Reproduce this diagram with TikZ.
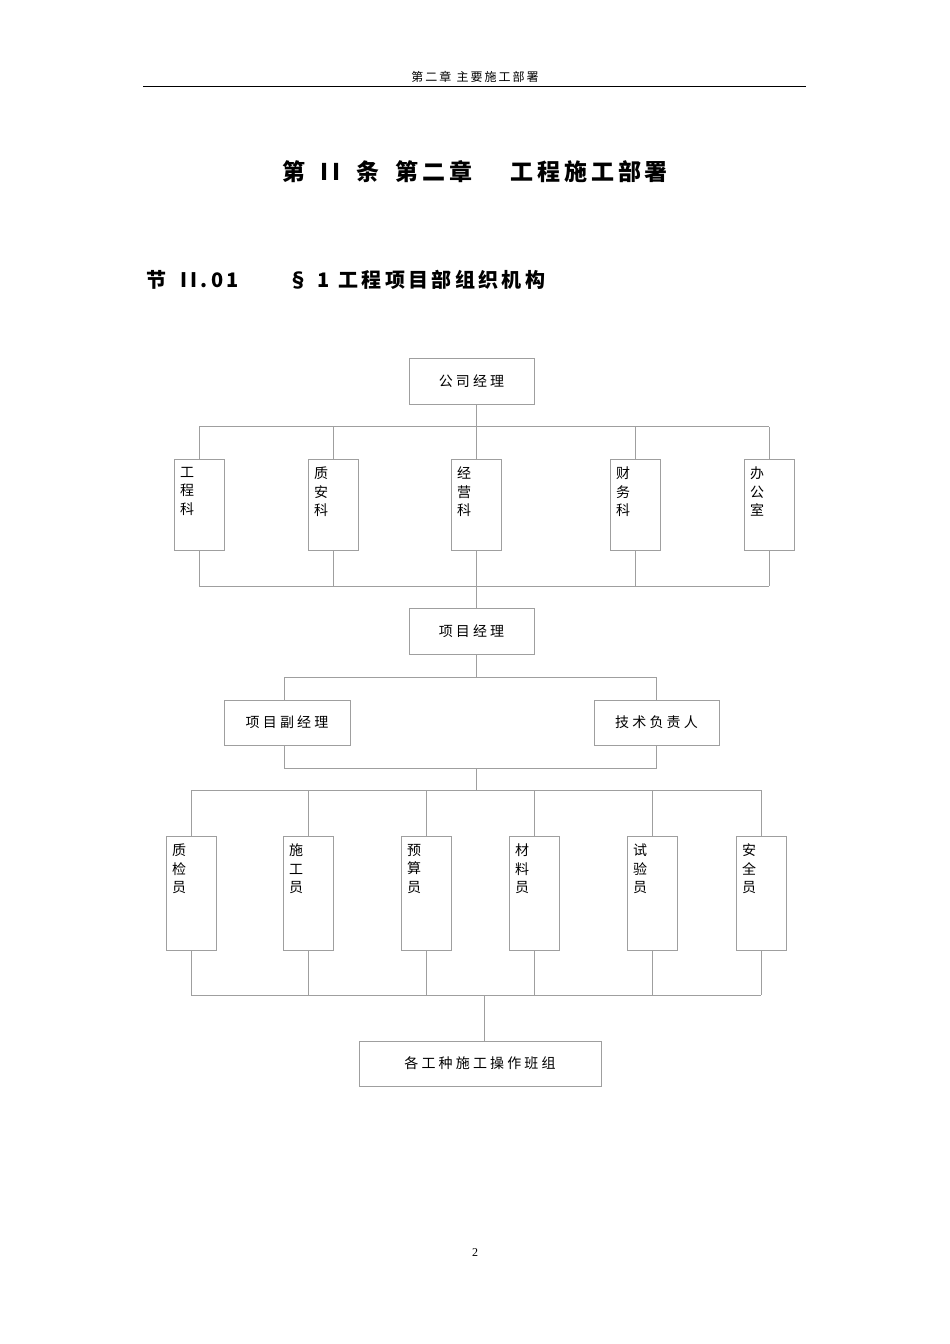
\documentclass[tikz,border=0pt]{standalone}
\usepackage{fontspec}
\setmainfont{Liberation Serif}
\newfontfamily\cjk{Noto Sans CJK SC}
\usetikzlibrary{calc}
\begin{document}
\begin{tikzpicture}[x=1pt,y=-1pt,
  box/.style={draw=gray!75,line width=0.6pt,inner sep=0pt},
  ln/.style={draw=gray!75,line width=0.6pt},
  lbl/.style={font=\cjk\fontsize{14}{17}\selectfont,align=center,inner sep=0pt},
  vl/.style={font=\cjk\fontsize{14}{18.5}\selectfont,align=center,inner sep=0pt,anchor=north}]
\useasboundingbox (0,0) rectangle (950,1344);
% header
\node (hd) at (475,77) {\cjk\fontsize{12}{14}\selectfont 第\,二\,章\ \ 主\,要\,施\,工\,部\,署};
\draw[line width=0.9pt] (143,86) -- (806,86);
\node (tt) at (475,172) {\cjk\bfseries\fontsize{23}{28}\selectfont 第\ \ \ I\,I\ \ \ 条\ \ \ 第\,二\,章\quad\ \ \ 工\,程\,施\,工\,部\,署};
\node[anchor=west] (sec) at (143,280) {\cjk\bfseries\fontsize{20}{24}\selectfont 节\ \ \ I\,I\,.\,0\,1\qquad\ \ §\ \ 1\ \ 工\,程\,项\,目\,部\,组\,织\,机\,构};
% company manager
\node[box,minimum width=125,minimum height=46] (gs) at (471.5,381) {};
\node[lbl] at (gs) {公\ 司\ 经\ 理};
% dept row
\foreach \n/\x/\t in {a/199/工\\程\\科, b/333/质\\安\\科, c/476/经\\营\\科, d/635/财\\务\\科, e/769/办\\公\\室}{
  \node[box,minimum width=50,minimum height=91] (\n) at (\x,504.5) {};
  \node[vl] at ([xshift=-12,yshift=-8]\n.north) {\t};
  \draw[ln] (\n.north) -- ++(0,-32);
  \draw[ln] (\n.south) -- ++(0,36);
}
\coordinate (t1) at ($(a.north)+(0,-32)$);
\coordinate (t2) at ($(e.north)+(0,-32)$);
\coordinate (b1) at ($(a.south)+(0,36)$);
\coordinate (b2) at ($(e.south)+(0,36)$);
\draw[ln] (t1) -- (t2);
\draw[ln] (b1) -- (b2);
\draw[ln] (c.north |- gs.south) -- (c.north |- t1);
% project manager
\node[box,minimum width=125,minimum height=46] (pm) at (471.5,631) {};
\node[lbl] at (pm) {项\ 目\ 经\ 理};
\draw[ln] (c.south |- b1) -- (c.south |- pm.north);
\node[box,minimum width=126,minimum height=45] (vp) at (287,722.5) {};
\node[lbl] at (vp) {项\ 目\ 副\ 经\ 理};
\node[box,minimum width=125,minimum height=45] (te) at (656.5,722.5) {};
\node[lbl] at (te) {技\ 术\ 负\ 责\ 人};
\coordinate (u1) at (284,677);
\coordinate (u2) at (656,677);
\coordinate (w1) at (284,768);
\coordinate (w2) at (656,768);
\draw[ln] (c.south |- pm.south) -- (c.south |- u1);
\draw[ln] (u1 |- vp.north) -- (u1) -- (u2) -- (u2 |- te.north);
\draw[ln] (w1 |- vp.south) -- (w1) -- (w2) -- (w2 |- te.south);
\coordinate (r1) at (191,790);
\coordinate (r2) at (761,790);
\coordinate (s1) at (191,995);
\coordinate (s2) at (761,995);
\draw[ln] (c.south |- w1) -- (c.south |- r1);
\draw[ln] (r1) -- (r2);
\draw[ln] (s1) -- (s2);
\foreach \n/\x/\t in {q/191/质\\检\\员, s/308/施\\工\\员, y/426/预\\算\\员, m/534/材\\料\\员, t/652/试\\验\\员, z/761/安\\全\\员}{
  \node[box,minimum width=50,minimum height=114] (\n) at (\x,893) {};
  \node[vl] at ([xshift=-12,yshift=-8]\n.north) {\t};
  \draw[ln] (\n.north) -- (\n.north |- r1);
  \draw[ln] (\n.south) -- (\n.south |- s1);
}
\node[box,minimum width=242,minimum height=45] (bz) at (480,1063.5) {};
\node[lbl] at (bz) {各\ 工\ 种\ 施\ 工\ 操\ 作\ 班\ 组};
\draw[ln] (484,995) -- (484 ,1041);
\node (pg) at (475,1253) {\fontsize{12}{14}\selectfont 2};
\end{tikzpicture}
\end{document}
